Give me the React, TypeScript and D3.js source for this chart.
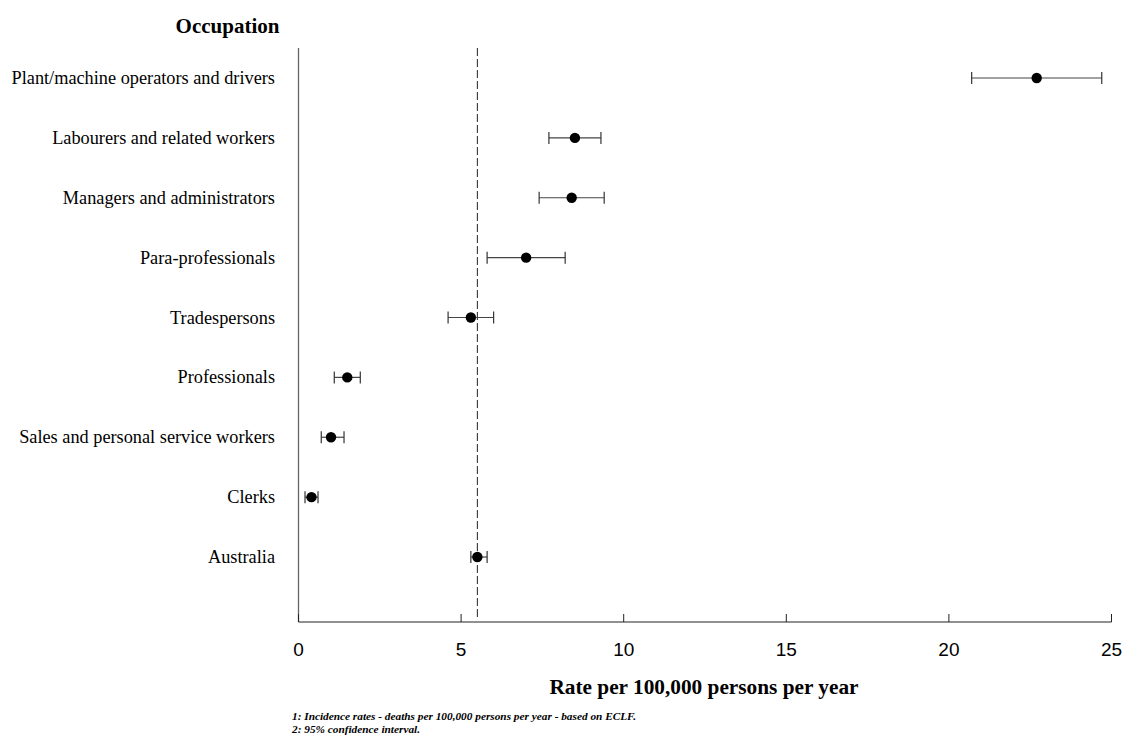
import React from "react";
import * as d3 from "d3";

const categories = [
  "Plant/machine operators and drivers",
  "Labourers and related workers",
  "Managers and administrators",
  "Para-professionals",
  "Tradespersons",
  "Professionals",
  "Sales and personal service workers",
  "Clerks",
  "Australia",
];
const rates = [22.7, 8.5, 8.4, 7.0, 5.3, 1.5, 1.0, 0.4, 5.5];
const lower = [20.7, 7.7, 7.4, 5.8, 4.6, 1.1, 0.7, 0.2, 5.3];
const upper = [24.7, 9.3, 9.4, 8.2, 6.0, 1.9, 1.4, 0.6, 5.8];
const xTicks = [0, 5, 10, 15, 20, 25];
const referenceRate = 5.5;
const footnotes = [
  "1: Incidence rates - deaths per 100,000 persons per year - based on ECLF.",
  "2: 95% confidence interval.",
];

const W = 1125;
const H = 740;
const left = 298.5;
const right = 1111.5;
const top = 48;
const bottom = 622;

export default function App() {
  const x = d3.scaleLinear().domain([0, 25]).range([left, right]);
  const y = d3.scalePoint<string>().domain(categories).range([78, 557]);
  const serif = "'Liberation Serif', 'Times New Roman', serif";
  const sans = "'Liberation Sans', Arial, sans-serif";
  return (
    <div style={{ position: "absolute", left: 0, top: 0 }}>
      <svg width={W} height={H} style={{ display: "block", background: "#fff" }}>
        <text x={227.5} y={33} textAnchor="middle" fontFamily={serif} fontWeight="bold" fontSize={21}>
          Occupation
        </text>
        {/* y axis */}
        <line x1={left} x2={left} y1={top} y2={bottom} stroke="#666" strokeWidth={1.3} />
        {/* x axis */}
        <line x1={left} x2={right} y1={bottom} y2={bottom} stroke="#222" strokeWidth={1} />
        {xTicks.map((t) => (
          <g key={t}>
            <line x1={x(t)} x2={x(t)} y1={bottom} y2={bottom - 8} stroke="#222" strokeWidth={1} />
            <text x={x(t)} y={655.5} textAnchor="middle" fontFamily={sans} fontSize={19}>
              {t}
            </text>
          </g>
        ))}
        {/* reference line */}
        <line
          x1={x(referenceRate)}
          x2={x(referenceRate)}
          y1={top}
          y2={bottom - 3}
          stroke="#222"
          strokeWidth={1}
          strokeDasharray="8,3"
        />
        {categories.map((c, i) => {
          const cy = y(c)!;
          return (
            <g key={c}>
              <text x={275} y={cy + 6} textAnchor="end" fontFamily={serif} fontSize={18.3}>
                {c}
              </text>
              <line x1={x(lower[i])} x2={x(upper[i])} y1={cy} y2={cy} stroke="#444" strokeWidth={1.2} />
              <line x1={x(lower[i])} x2={x(lower[i])} y1={cy - 6} y2={cy + 6} stroke="#333" strokeWidth={1.2} />
              <line x1={x(upper[i])} x2={x(upper[i])} y1={cy - 6} y2={cy + 6} stroke="#333" strokeWidth={1.2} />
              <circle cx={x(rates[i])} cy={cy} r={5.2} fill="#000" />
            </g>
          );
        })}
        <text x={704} y={694} textAnchor="middle" fontFamily={serif} fontWeight="bold" fontSize={21.3}>
          Rate per 100,000 persons per year
        </text>
        {footnotes.map((f, i) => (
          <text
            key={i}
            x={292}
            y={720 + i * 12.5}
            fontFamily={serif}
            fontWeight="bold"
            fontStyle="italic"
            fontSize={11.3}
          >
            {f}
          </text>
        ))}
      </svg>
    </div>
  );
}
